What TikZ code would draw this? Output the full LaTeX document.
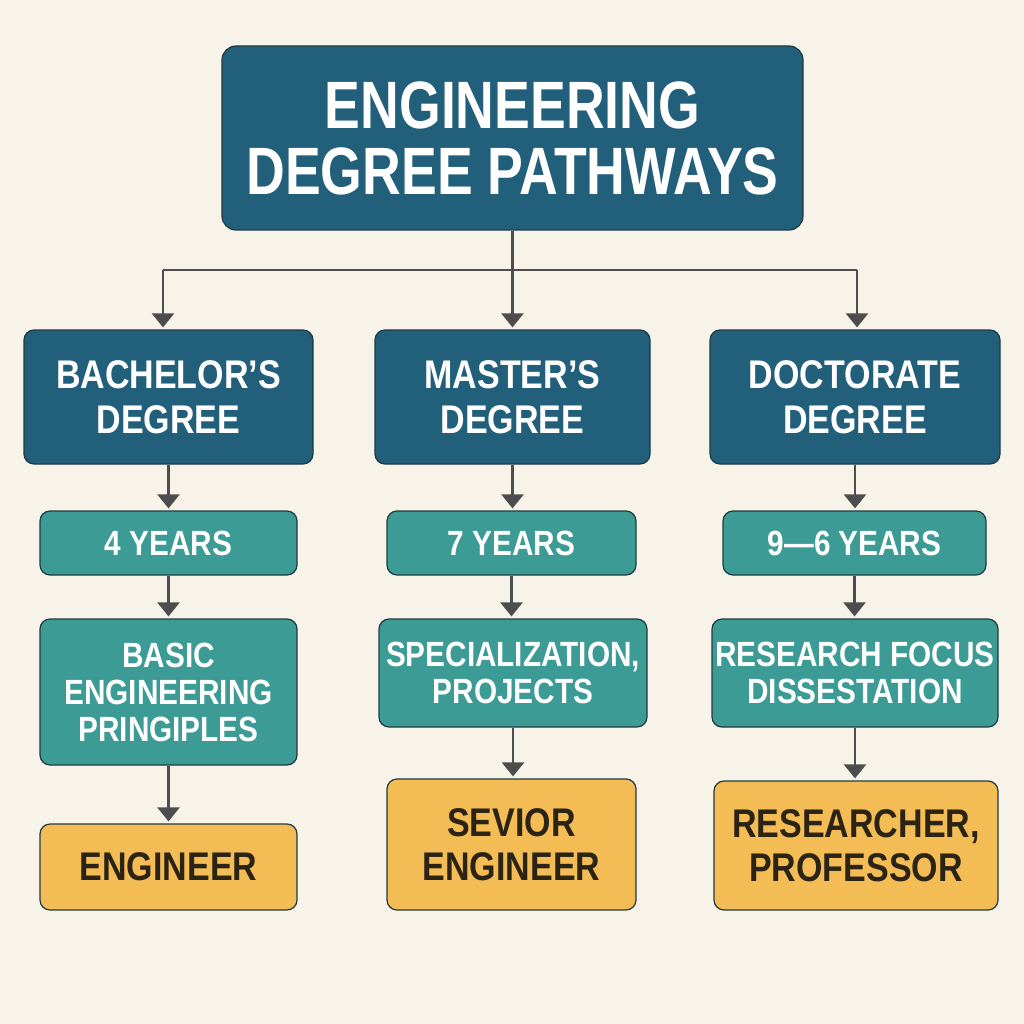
\documentclass[tikz,border=0pt]{standalone}
\usepackage{fontspec}
\newfontfamily\cf[FakeStretch=0.85]{Liberation Sans}
\newfontfamily\tf[FakeStretch=0.8]{Liberation Sans}
\usetikzlibrary{arrows.meta}
\definecolor{bg}{HTML}{F7F3E9}
\definecolor{navy}{HTML}{215F7B}
\definecolor{teal}{HTML}{3C9C95}
\definecolor{gold}{HTML}{F3BC55}
\definecolor{edge}{HTML}{1E3A40}
\definecolor{arr}{HTML}{4D4D4D}
\definecolor{ink}{HTML}{2B2314}
\tikzset{
  box/.style={draw=edge, line width=1.2pt, rounded corners=10pt, inner sep=0pt, align=center},
  titlebox/.style={box, fill=navy, text=white, rounded corners=14pt, font={\tf\bfseries\fontsize{67}{66}\selectfont}},
  degbox/.style={box, fill=navy, text=white, font={\cf\bfseries\fontsize{40}{45}\selectfont}},
  yearbox/.style={box, fill=teal, text=white, font={\cf\bfseries\fontsize{35}{38}\selectfont}},
  topicbox/.style={box, fill=teal, text=white, font={\cf\bfseries\fontsize{35}{37}\selectfont}},
  jobbox/.style={box, fill=gold, text=ink, font={\cf\bfseries\fontsize{40}{44}\selectfont}},
  link/.style={draw=arr, line width=2.4pt, -{Triangle[width=22pt,length=14pt]}, shorten >=2pt},
  plain/.style={draw=arr, line width=2.4pt}
}
\begin{document}
\begin{tikzpicture}[x=1pt,y=-1pt]
\fill[bg] (0,0) rectangle (1024,1024);
\useasboundingbox (0,0) rectangle (1024,1024);

\node[titlebox, minimum width=581pt, minimum height=184pt] (title) at (512.5,138) {ENGINEERING\\DEGREE PATHWAYS};

\node[degbox, minimum width=289pt, minimum height=134pt] (b1) at (168.5,397) {BACHELOR’S\\DEGREE};
\node[degbox, minimum width=275pt, minimum height=134pt] (m1) at (512.5,397) {MASTER’S\\DEGREE};
\node[degbox, minimum width=290pt, minimum height=134pt] (d1) at (855,397) {DOCTORATE\\DEGREE};

\node[yearbox, minimum width=257pt, minimum height=64pt] (b2) at (168.5,543) {4 YEARS};
\node[yearbox, minimum width=249pt, minimum height=64pt] (m2) at (511.5,543) {7 YEARS};
\node[yearbox, minimum width=263pt, minimum height=64pt] (d2) at (854.5,543) {9—6 YEARS};

\node[topicbox, minimum width=257pt, minimum height=146pt] (b3) at (168.5,692) {BASIC\\ENGINEERING\\PRINGIPLES};
\node[topicbox, minimum width=268pt, minimum height=108pt] (m3) at (513,673) {SPECIALIZATION,\\PROJECTS};
\node[topicbox, minimum width=286pt, minimum height=108pt] (d3) at (855,673) {RESEARCH FOCUS\\DISSESTATION};

\node[jobbox, minimum width=257pt, minimum height=86pt] (b4) at (168.5,867) {ENGINEER};
\node[jobbox, minimum width=249pt, minimum height=131pt] (m4) at (511.5,844.5) {SEVIOR\\ENGINEER};
\node[jobbox, minimum width=284pt, minimum height=129pt] (d4) at (856,845.5) {RESEARCHER,\\PROFESSOR};

\coordinate (hub) at (512.5,270);
\coordinate (hl) at (163,270);
\coordinate (hr) at (857,270);
\draw[plain] (title.south) -- (hub);
\draw[plain] (hl) -- (hr);
\draw[link] (hl) -- (hl |- b1.north);
\draw[link] (hub) -- (m1.north -| hub);
\draw[link] (hr) -- (hr |- d1.north);

\draw[link] (b1.south) -- (b2.north);
\draw[link] (m1.south) -- (m1.south |- m2.north);
\draw[link] (d1.south) -- (d1.south |- d2.north);
\draw[link] (b2.south) -- (b3.north);
\draw[link] (m2.south) -- (m2.south |- m3.north);
\draw[link] (d2.south) -- (d2.south |- d3.north);
\draw[link] (b3.south) -- (b4.north);
\draw[link] (m3.south) -- (m3.south |- m4.north);
\draw[link] (d3.south) -- (d3.south |- d4.north);
\end{tikzpicture}
\end{document}
